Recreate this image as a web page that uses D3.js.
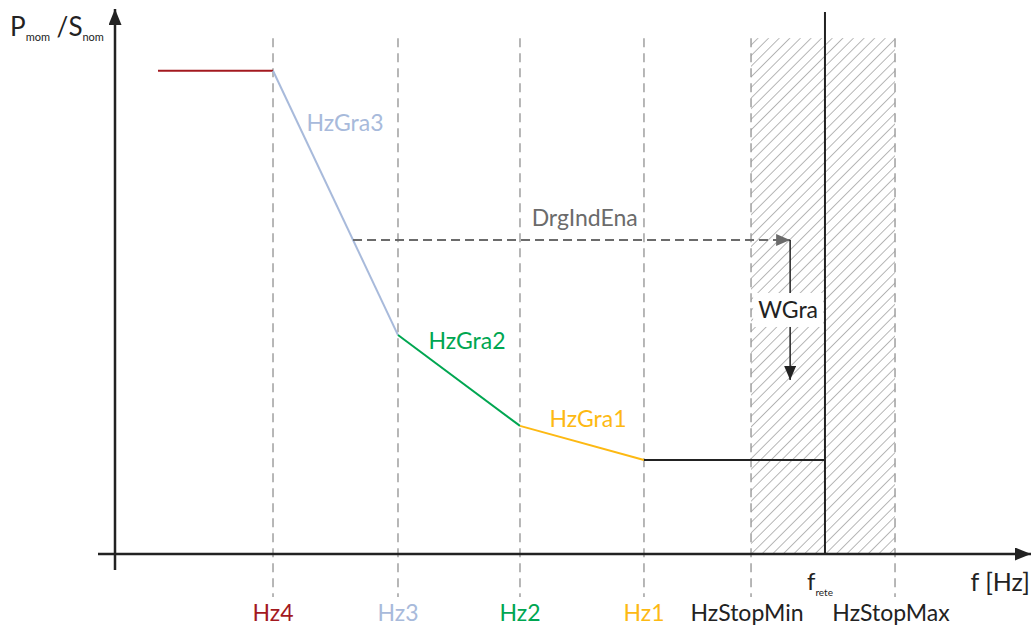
<!DOCTYPE html>
<html>
<head>
<meta charset="utf-8">
<script src="https://cdn.jsdelivr.net/npm/d3@7"></script>
<style>
  body { margin: 0; background: #fff; }
  text { font-family: "Lato", "DejaVu Sans", sans-serif; }
</style>
</head>
<body>
<div id="wrapper"></div>
<script>
// abstract frequency positions (chart units)
const markNames = ["Hz4", "Hz3", "Hz2", "Hz1", "HzStopMin", "HzStopMax"];
const markFreq = [17.46, 31.27, 44.75, 58.45, 70.28, 86.19];
const markColors = ["#a3191f", "#a8badb", "#00a651", "#fdb913", "#222222", "#222222"];
const fRete = 78.45;

// characteristic curve: segments between breakpoints
const curveFreq = [4.75, 17.46, 31.27, 44.75, 58.45, 78.45];
const curvePower = [0.905, 0.905, 0.41, 0.24, 0.176, 0.176];
const segColors = ["#a3191f", "#a8badb", "#00a651", "#fdb913", "#222222"];
const segLabels = ["", "HzGra3", "HzGra2", "HzGra1", ""];

// DrgIndEna arrow and WGra arrow
const drgFreq = [26.3, 74.6];
const drgPower = 0.588;
const wgraPower = [0.588, 0.326];

async function buildPlot() {
    const dimension = { width: 1032, height: 630 };
    const fs = 23;

    const svg = d3.select("#wrapper").append("svg")
        .attr("width", dimension.width)
        .attr("height", dimension.height);

    const xScaler = d3.scaleLinear().domain([0, 100]).range([115, 1020]);
    const yScaler = d3.scaleLinear().domain([0, 1]).range([554, 20]);

    const defs = svg.append("defs");
    const pat = defs.append("pattern")
        .attr("id", "hatch")
        .attr("patternUnits", "userSpaceOnUse")
        .attr("width", 7.5).attr("height", 7.5)
        .attr("patternTransform", "rotate(45)");
    pat.append("line")
        .attr("x1", 0).attr("y1", 0).attr("x2", 0).attr("y2", 7.5)
        .attr("stroke", "#7d7d7d").attr("stroke-width", 1.1);

    const arrowDef = (id, color, w, h) => {
        defs.append("marker")
            .attr("id", id)
            .attr("viewBox", `0 0 ${w} ${h}`)
            .attr("refX", w).attr("refY", h / 2)
            .attr("markerWidth", w).attr("markerHeight", h)
            .attr("markerUnits", "userSpaceOnUse")
            .attr("orient", "auto")
            .append("path")
            .attr("d", `M0,0L${w},${h / 2}L0,${h}Z`)
            .attr("fill", color);
    };
    arrowDef("arrBlack", "#222", 16, 13);
    arrowDef("arrGray", "#6b6b6b", 14, 12);
    arrowDef("arrSmall", "#222", 14, 12);

    // hatched stop band
    const topHatch = yScaler(0.966);
    svg.append("rect")
        .attr("x", xScaler(markFreq[4]))
        .attr("y", topHatch)
        .attr("width", xScaler(markFreq[5]) - xScaler(markFreq[4]))
        .attr("height", yScaler(0) - topHatch)
        .attr("fill", "url(#hatch)");

    // dashed vertical guides
    svg.selectAll(".guide")
        .data(markFreq)
        .join("line")
        .attr("x1", d => xScaler(d)).attr("x2", d => xScaler(d))
        .attr("y1", topHatch).attr("y2", 597)
        .attr("stroke", "#999")
        .attr("stroke-width", 1.4)
        .attr("stroke-dasharray", "9,6");

    // axes
    svg.append("line")
        .attr("x1", 98).attr("x2", 1031)
        .attr("y1", yScaler(0)).attr("y2", yScaler(0))
        .attr("stroke", "#222").attr("stroke-width", 2.5)
        .attr("marker-end", "url(#arrBlack)");
    svg.append("line")
        .attr("x1", xScaler(0)).attr("x2", xScaler(0))
        .attr("y1", 570).attr("y2", 9)
        .attr("stroke", "#222").attr("stroke-width", 2.5)
        .attr("marker-end", "url(#arrBlack)");

    // f_rete line
    svg.append("line")
        .attr("x1", xScaler(fRete)).attr("x2", xScaler(fRete))
        .attr("y1", 12).attr("y2", yScaler(0))
        .attr("stroke", "#222").attr("stroke-width", 2);

    // curve segments
    const segs = d3.range(curveFreq.length - 1);
    svg.selectAll(".seg")
        .data(segs)
        .join("line")
        .attr("x1", i => xScaler(curveFreq[i]))
        .attr("y1", i => yScaler(curvePower[i]))
        .attr("x2", i => xScaler(curveFreq[i + 1]))
        .attr("y2", i => yScaler(curvePower[i + 1]))
        .attr("stroke", i => segColors[i])
        .attr("stroke-width", 2);

    // DrgIndEna dashed arrow
    svg.append("line")
        .attr("x1", xScaler(drgFreq[0])).attr("x2", xScaler(drgFreq[1]))
        .attr("y1", yScaler(drgPower)).attr("y2", yScaler(drgPower))
        .attr("stroke", "#6b6b6b").attr("stroke-width", 2)
        .attr("stroke-dasharray", "9,5")
        .attr("marker-end", "url(#arrGray)");

    // WGra arrow
    svg.append("line")
        .attr("x1", xScaler(drgFreq[1])).attr("x2", xScaler(drgFreq[1]))
        .attr("y1", yScaler(wgraPower[0])).attr("y2", yScaler(wgraPower[1]))
        .attr("stroke", "#222").attr("stroke-width", 1.5)
        .attr("marker-end", "url(#arrSmall)");

    const wx = xScaler(drgFreq[1]) - 2;
    const wy = (yScaler(wgraPower[0]) + yScaler(wgraPower[1])) / 2;
    svg.append("rect")
        .attr("x", wx - 35).attr("y", wy - 17)
        .attr("width", 70).attr("height", 34)
        .attr("fill", "#fff");
    svg.append("text")
        .attr("x", wx).attr("y", wy + 8)
        .attr("text-anchor", "middle")
        .attr("font-size", fs).attr("fill", "#222")
        .text("WGra");

    svg.append("text")
        .attr("x", xScaler(51.9)).attr("y", 226)
        .attr("text-anchor", "middle")
        .attr("font-size", fs).attr("fill", "#6b6b6b")
        .text("DrgIndEna");

    // segment labels
    const labelPos = [null, [345, 131], [467, 349], [588, 427]];
    segs.forEach(i => {
        if (!segLabels[i]) return;
        svg.append("text")
            .attr("x", labelPos[i][0]).attr("y", labelPos[i][1])
            .attr("text-anchor", "middle")
            .attr("font-size", fs).attr("fill", segColors[i])
            .text(segLabels[i]);
    });

    // bottom labels
    svg.selectAll(".mark")
        .data(markNames)
        .join("text")
        .attr("x", (d, i) => xScaler(markFreq[i]) + (i >= 4 ? -4 : 0))
        .attr("y", 621)
        .attr("text-anchor", "middle")
        .attr("font-size", fs)
        .attr("fill", (d, i) => markColors[i])
        .text(d => d);

    // f_rete label
    const fr = svg.append("text")
        .attr("x", xScaler(fRete) - 18).attr("y", 590)
        .attr("font-size", fs + 1).attr("fill", "#222");
    fr.append("tspan").text("f");
    fr.append("tspan").attr("font-size", 10).attr("dy", 6).text("rete");

    svg.append("text")
        .attr("x", 1030).attr("y", 591)
        .attr("text-anchor", "end")
        .attr("font-size", 25).attr("fill", "#222")
        .text("f [Hz]");

    // y axis label
    const yl = svg.append("text")
        .attr("x", 10).attr("y", 36)
        .attr("font-size", 26).attr("fill", "#222");
    yl.append("tspan").text("P");
    yl.append("tspan").attr("font-size", 11).attr("dy", 5).text("mom");
    yl.append("tspan").attr("dy", -5).text(" /S");
    yl.append("tspan").attr("font-size", 11).attr("dy", 5).text("nom");
}

buildPlot();
</script>
</body>
</html>
